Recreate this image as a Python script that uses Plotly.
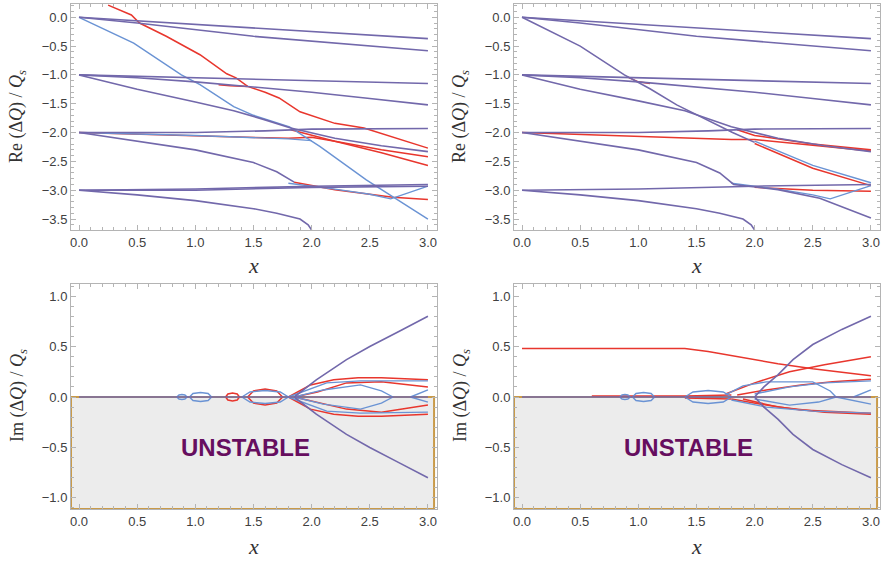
import plotly.graph_objects as go

# ---------------- data ----------------
X_TICKS = [0.0, 0.5, 1.0, 1.5, 2.0, 2.5, 3.0]
RE_TICKS = [0.0, -0.5, -1.0, -1.5, -2.0, -2.5, -3.0, -3.5]
IM_TICKS = [1.0, 0.5, 0.0, -0.5, -1.0]

# Re(dQ)/Qs, left panel
RE_LEFT_BOTH = [
    [[0, 3.0], [0, -0.37]],
    [[0, 0.5, 1.5, 3.0], [0, -0.1, -0.33, -0.58]],
    [[0, 3.0], [-1.0, -1.15]],
    [[0, 0.5, 1.0, 1.44, 2.0, 2.5, 3.0], [-1.0, -1.05, -1.12, -1.2, -1.3, -1.41, -1.52]],
    [[0, 0.5, 1.0, 1.33, 1.6, 1.82, 2.2, 2.6, 3.0], [-1.0, -1.25, -1.47, -1.62, -1.78, -1.92, -2.1, -2.23, -2.33]],
    [[0, 1.0, 1.6, 2.0, 3.0], [-2.0, -2.0, -1.97, -1.94, -1.93]],
    [[0, 0.5, 1.0, 1.5, 1.7, 1.85], [-2.0, -2.15, -2.3, -2.52, -2.68, -2.86]],
    [[0, 1.0, 2.0, 3.0], [-3.0, -2.98, -2.93, -2.9]],
    [[0, 1.0, 2.0, 3.0], [-3.0, -3.0, -2.95, -2.93]],
    [[0, 0.5, 1.0, 1.5, 1.7, 1.9, 1.97, 2.0], [-3.0, -3.08, -3.18, -3.32, -3.4, -3.5, -3.6, -3.69]],
]
RE_LEFT_RED = [
    [[0.25, 0.45, 0.52, 0.75, 1.04, 1.13, 1.27, 1.35, 1.45, 1.6, 1.72, 1.9, 2.2, 2.45, 2.7, 3.0],
     [0.21, 0.04, -0.1, -0.33, -0.65, -0.78, -0.98, -1.05, -1.2, -1.3, -1.4, -1.64, -1.84, -1.92, -2.08, -2.27]],
    [[0, 1.0, 1.8, 2.0, 2.2, 2.6, 3.0], [-2.0, -2.06, -2.1, -2.08, -2.15, -2.35, -2.57]],
    [[1.82, 2.2, 2.6, 3.0], [-1.95, -2.15, -2.3, -2.42]],
    [[1.85, 2.0, 2.2, 2.5, 2.7, 3.0], [-2.86, -2.92, -2.99, -3.07, -3.12, -3.16]],
    [[1.2, 1.3, 1.45], [-1.17, -1.19, -1.2]],
]
RE_LEFT_BLUE = [
    [[0, 0.47, 0.88, 1.04, 1.33, 1.5, 1.81, 2.07, 2.47, 3.0], [0, -0.45, -1.0, -1.17, -1.55, -1.7, -1.9, -2.24, -2.82, -3.5]],
    [[1.8, 2.2, 2.5, 2.68, 3.0], [-2.88, -2.98, -3.07, -3.15, -2.93]],
    [[0, 1.0, 1.8, 2.0], [-2.0, -2.05, -2.11, -2.14]],
]

# Re(dQ)/Qs, right panel
RE_RIGHT_BOTH = [
    [[0, 3.0], [0, -0.37]],
    [[0, 0.5, 1.5, 3.0], [0, -0.1, -0.33, -0.58]],
    [[0, 0.5, 0.88, 1.1, 1.33, 1.61, 1.81, 2.0], [0, -0.5, -1.0, -1.24, -1.52, -1.8, -2.0, -2.17]],
    [[0, 3.0], [-1.0, -1.15]],
    [[0, 0.5, 1.0, 1.44, 2.0, 2.5, 3.0], [-1.0, -1.05, -1.12, -1.2, -1.3, -1.41, -1.52]],
    [[0, 0.5, 1.0, 1.4, 1.8, 2.2, 2.6, 3.0], [-1.0, -1.25, -1.45, -1.62, -1.9, -2.1, -2.23, -2.33]],
    [[0, 1.0, 1.6, 2.0, 3.0], [-2.0, -2.0, -1.97, -1.94, -1.93]],
    [[0, 0.5, 1.0, 1.5, 1.7, 1.82, 2.2, 2.56, 3.0], [-2.0, -2.15, -2.3, -2.52, -2.7, -2.9, -2.99, -3.14, -3.48]],
    [[0, 1.0, 2.0, 3.0], [-3.0, -2.98, -2.93, -2.9]],
    [[0, 0.5, 1.0, 1.5, 1.7, 1.9, 1.97, 2.0], [-3.0, -3.08, -3.18, -3.32, -3.4, -3.5, -3.6, -3.69]],
]
RE_RIGHT_RED = [
    [[0, 1.0, 1.8, 2.0, 2.5, 3.0], [-2.0, -2.07, -2.12, -2.12, -2.22, -2.32]],
    [[1.85, 2.0, 2.5, 3.0], [-1.95, -2.05, -2.2, -2.3]],
    [[2.0, 2.5, 3.0], [-2.19, -2.62, -2.92]],
    [[2.0, 2.5, 3.0], [-2.95, -3.0, -3.02]],
    [[0.9, 1.0, 1.1], [-1.03, -1.12, -1.15]],
]
RE_RIGHT_BLUE = [
    [[2.0, 2.5, 3.0], [-2.15, -2.57, -2.87]],
    [[1.8, 2.2, 2.5, 2.65, 3.0], [-2.88, -2.98, -3.08, -3.15, -2.92]],
]

# Im(dQ)/Qs, left panel
IM_LEFT_BOTH = [
    [[0, 3.0], [0, 0]],
    [[1.85, 2.04, 2.3, 2.5, 2.75, 3.0], [0, 0.17, 0.37, 0.5, 0.65, 0.8]],
    [[1.85, 2.04, 2.3, 2.5, 2.75, 3.0], [0, -0.17, -0.37, -0.5, -0.65, -0.8]],
]
IM_LEFT_RED = [
    [[1.26, 1.28, 1.32, 1.36, 1.38, 1.36, 1.32, 1.28, 1.26], [0, 0.03, 0.04, 0.03, 0, -0.03, -0.04, -0.03, 0]],
    [[1.45, 1.5, 1.6, 1.7, 1.75, 1.7, 1.6, 1.5, 1.45], [0, 0.06, 0.08, 0.06, 0, -0.06, -0.08, -0.06, 0]],
    [[1.8, 1.99, 2.19, 2.4, 2.6, 3.0], [0, 0.12, 0.17, 0.19, 0.19, 0.17]],
    [[1.8, 1.99, 2.19, 2.4, 2.6, 3.0], [0, -0.12, -0.17, -0.19, -0.19, -0.17]],
    [[1.85, 2.05, 2.3, 2.6, 3.0], [0, 0.05, 0.14, 0.15, 0.1]],
    [[1.85, 2.05, 2.3, 2.6, 3.0], [0, -0.05, -0.12, -0.15, -0.08]],
]
IM_LEFT_BLUE = [
    [[0.84, 0.86, 0.885, 0.91, 0.93, 0.91, 0.885, 0.86, 0.84], [0, 0.02, 0.025, 0.02, 0, -0.02, -0.025, -0.02, 0]],
    [[0.95, 0.98, 1.045, 1.11, 1.14, 1.11, 1.045, 0.98, 0.95], [0, 0.035, 0.045, 0.035, 0, -0.035, -0.045, -0.035, 0]],
    [[1.4, 1.47, 1.6, 1.73, 1.8, 1.73, 1.6, 1.47, 1.4], [0, 0.05, 0.065, 0.05, 0, -0.05, -0.065, -0.05, 0]],
    [[1.8, 2.13, 2.42, 3.0], [0, 0.14, 0.16, 0.16]],
    [[1.8, 2.13, 2.42, 3.0], [0, -0.14, -0.16, -0.15]],
    [[1.85, 2.1, 2.42, 2.6, 2.7], [0, 0.07, 0.12, 0.06, 0]],
    [[1.85, 2.1, 2.42, 2.6, 2.7], [0, -0.07, -0.12, -0.06, 0]],
    [[2.85, 3.0], [0, 0.07]],
    [[2.85, 3.0], [0, -0.05]],
]

# Im(dQ)/Qs, right panel
IM_RIGHT_BOTH = [
    [[0, 3.0], [0, 0]],
    [[2.0, 2.08, 2.2, 2.33, 2.5, 2.75, 3.0], [0, 0.1, 0.22, 0.37, 0.52, 0.67, 0.8]],
    [[2.0, 2.08, 2.2, 2.33, 2.5, 2.75, 3.0], [0, -0.1, -0.22, -0.37, -0.52, -0.67, -0.8]],
]
IM_RIGHT_RED = [
    [[0, 1.4, 1.6, 1.9, 2.2, 2.5, 3.0], [0.48, 0.48, 0.45, 0.39, 0.33, 0.28, 0.21]],
    [[1.75, 2.0, 2.3, 2.6, 3.0], [0.03, 0.14, 0.25, 0.32, 0.4]],
    [[1.85, 2.1, 2.4, 2.67, 3.0], [0.02, 0.07, 0.12, 0.15, 0.175]],
    [[0.6, 1.4, 1.8], [0.01, 0.01, 0.02]],
    [[1.4, 1.8], [-0.01, -0.02]],
    [[1.8, 2.1, 2.4, 3.0], [-0.02, -0.08, -0.13, -0.16]],
    [[1.9, 2.2, 2.6, 3.0], [-0.02, -0.1, -0.15, -0.17]],
]
IM_RIGHT_BLUE = [
    [[0.84, 0.86, 0.885, 0.91, 0.93, 0.91, 0.885, 0.86, 0.84], [0, 0.02, 0.025, 0.02, 0, -0.02, -0.025, -0.02, 0]],
    [[0.95, 0.98, 1.045, 1.11, 1.14, 1.11, 1.045, 0.98, 0.95], [0, 0.035, 0.045, 0.035, 0, -0.035, -0.045, -0.035, 0]],
    [[1.4, 1.47, 1.6, 1.73, 1.8, 1.73, 1.6, 1.47, 1.4], [0, 0.05, 0.065, 0.05, 0, -0.05, -0.065, -0.05, 0]],
    [[1.75, 1.9, 2.1, 2.5, 2.65, 2.7], [0.02, 0.11, 0.15, 0.15, 0.06, 0]],
    [[2.0, 2.3, 2.6, 3.0], [0.03, 0.1, 0.14, 0.16]],
    [[2.85, 3.0], [0, 0.07]],
    [[1.8, 2.1, 2.5, 3.0], [-0.03, -0.1, -0.14, -0.16]],
    [[2.0, 2.3, 2.55, 2.7], [-0.02, -0.08, -0.05, 0]],
    [[2.7, 3.0], [0, -0.07]],
]

# ---------------- styling ----------------
RED = "#e8362d"
BLUE = "#6a93d4"
PURPLE = "#7268ab"
FRAME = "#b4b4b4"
TICKFONT = dict(family="Liberation Sans, Arial, sans-serif", size=13, color="#404040")
SERIF = "Liberation Serif, Times New Roman, serif"

fig = go.Figure()


def add_group(curves, color, xa, ya, width):
    for xs, ys in curves:
        fig.add_trace(go.Scatter(x=xs, y=ys, mode="lines", xaxis=xa, yaxis=ya,
                                 line=dict(color=color, width=width),
                                 showlegend=False, hoverinfo="skip"))


panels = [
    ("x", "y", RE_LEFT_RED, RE_LEFT_BLUE, RE_LEFT_BOTH),
    ("x2", "y2", RE_RIGHT_RED, RE_RIGHT_BLUE, RE_RIGHT_BOTH),
    ("x3", "y3", IM_LEFT_RED, IM_LEFT_BLUE, IM_LEFT_BOTH),
    ("x4", "y4", IM_RIGHT_RED, IM_RIGHT_BLUE, IM_RIGHT_BOTH),
]
for xa, ya, red, blue, both in panels:
    add_group(red, RED, xa, ya, 1.5)
    add_group(blue, BLUE, xa, ya, 1.4)
    add_group(both, PURPLE, xa, ya, 1.6)

XDOM_L = [71 / 886, 437 / 886]
XDOM_R = [514 / 886, 880 / 886]
YDOM_T = [1 - 230 / 561, 1 - 4 / 561]
YDOM_B = [1 - 509 / 561, 1 - 284 / 561]


def xaxis(domain, anchor):
    return dict(domain=domain, anchor=anchor, range=[-0.069, 3.078],
                tickvals=X_TICKS, tickformat=".1f", ticks="inside", ticklen=5,
                tickcolor=FRAME, showline=True, linecolor=FRAME, linewidth=1,
                mirror="allticks", showgrid=False, zeroline=False,
                tickfont=TICKFONT,
                minor=dict(ticks="inside", ticklen=3, tickcolor=FRAME, dtick=0.1, showgrid=False))


def yaxis(domain, anchor, rng, ticks):
    return dict(domain=domain, anchor=anchor, range=rng,
                tickvals=ticks, tickformat=".1f", ticks="inside", ticklen=5,
                tickcolor=FRAME, showline=True, linecolor=FRAME, linewidth=1,
                mirror="allticks", showgrid=False, zeroline=False,
                tickfont=TICKFONT,
                minor=dict(ticks="inside", ticklen=3, tickcolor=FRAME, dtick=0.1, showgrid=False))


RE_RANGE = [-3.69, 0.23]
IM_RANGE = [-1.11, 1.12]

fig.update_layout(
    width=886, height=561,
    margin=dict(l=0, r=0, t=0, b=0),
    paper_bgcolor="white", plot_bgcolor="white",
    xaxis=xaxis(XDOM_L, "y"), yaxis=yaxis(YDOM_T, "x", RE_RANGE, RE_TICKS),
    xaxis2=xaxis(XDOM_R, "y2"), yaxis2=yaxis(YDOM_T, "x2", RE_RANGE, RE_TICKS),
    xaxis3=xaxis(XDOM_L, "y3"), yaxis3=yaxis(YDOM_B, "x3", IM_RANGE, IM_TICKS),
    xaxis4=xaxis(XDOM_R, "y4"), yaxis4=yaxis(YDOM_B, "x4", IM_RANGE, IM_TICKS),
)

# unstable region shading
for xa, ya in [("x3", "y3"), ("x4", "y4")]:
    fig.add_shape(type="rect", xref=f"{xa} domain", yref=ya,
                  x0=0.0, x1=0.992, y0=IM_RANGE[0], y1=0.0,
                  fillcolor="#ececec", line=dict(color="#c99a48", width=2), layer="below")
    fig.add_annotation(xref=xa, yref=ya, x=1.43, y=-0.505, text="<b>UNSTABLE</b>",
                       showarrow=False,
                       font=dict(family="Liberation Sans, Arial, sans-serif", size=24, color="#660e5f"))

# axis titles
re_title = "Re (Δ<i>Q</i>) / <i>Q<sub>s</sub></i>"
im_title = "Im (Δ<i>Q</i>) / <i>Q<sub>s</sub></i>"
for xp, yp, txt in [(18 / 886, 1 - 117 / 561, re_title), (461 / 886, 1 - 117 / 561, re_title),
                    (18 / 886, 1 - 396 / 561, im_title), (461 / 886, 1 - 396 / 561, im_title)]:
    fig.add_annotation(xref="paper", yref="paper", x=xp, y=yp, text=txt, textangle=-90,
                       showarrow=False, xanchor="center", yanchor="middle",
                       font=dict(family=SERIF, size=18, color="#333333"))
for xp, yp in [(253 / 886, 1 - 265 / 561), (696 / 886, 1 - 265 / 561),
               (253 / 886, 1 - 546 / 561), (696 / 886, 1 - 546 / 561)]:
    fig.add_annotation(xref="paper", yref="paper", x=xp, y=yp, text="<i>x</i>",
                       showarrow=False, xanchor="center", yanchor="middle",
                       font=dict(family=SERIF, size=22, color="#333333"))

fig.write_html("out.html")
